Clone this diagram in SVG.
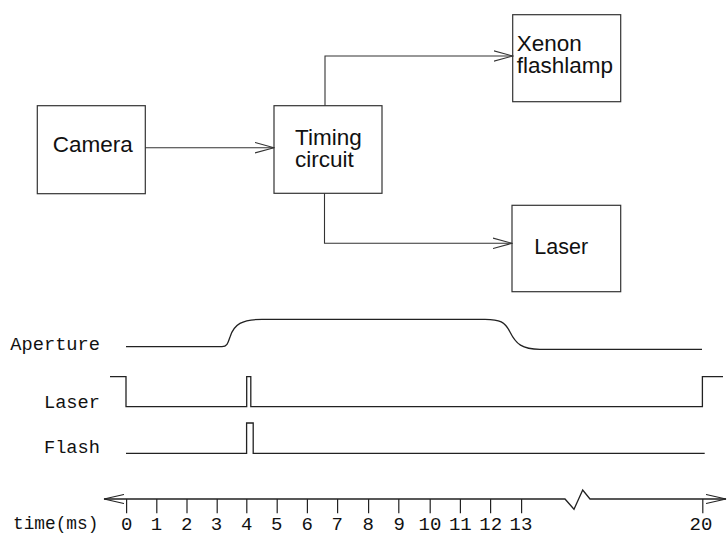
<svg xmlns="http://www.w3.org/2000/svg" width="727" height="538" viewBox="0 0 727 538">
<style>
.box{fill:#fff;stroke:#333;stroke-width:1.2}
.lbl{font-family:"Liberation Sans",Arial,sans-serif;font-size:22.5px;fill:#111}
.conn{fill:none;stroke:#333;stroke-width:1.1}
.sig{fill:none;stroke:#222;stroke-width:1.3}
.mono{font-family:"Liberation Mono","Courier New",monospace;font-size:18.7px;fill:#111}
.num{font-family:"Liberation Mono","Courier New",monospace;font-size:19px;fill:#111;text-anchor:middle}
.tick{stroke:#222;stroke-width:1.2}
</style>
<defs>
<marker id="arr" viewBox="0 0 20 12" refX="19" refY="6" markerWidth="20" markerHeight="12" markerUnits="userSpaceOnUse" orient="auto">
<path d="M0,0.8 L19,6 L0,11.2" fill="none" stroke="#333" stroke-width="1.1"/>
</marker>
<marker id="axarr" viewBox="0 0 21 10" refX="20" refY="5" markerWidth="21" markerHeight="10" markerUnits="userSpaceOnUse" orient="auto-start-reverse">
<path d="M0,0.5 L20,5 L0,9.5" fill="none" stroke="#222" stroke-width="1.1"/>
</marker>
</defs>
<rect width="727" height="538" fill="#fff"/>

<g id="camera">
<rect class="box" x="37.3" y="105.7" width="108" height="88"/>
<text class="lbl" x="52.7" y="152.3">Camera</text>
</g>
<g id="timing">
<rect class="box" x="274" y="105.7" width="108" height="87.6"/>
<text class="lbl" x="295" y="145">Timing</text>
<text class="lbl" x="295" y="167.3">circuit</text>
</g>
<g id="xenon">
<rect class="box" x="512.7" y="14.7" width="108" height="87"/>
<text class="lbl" x="516.7" y="50.7">Xenon</text>
<text class="lbl" x="516.7" y="73.3">flashlamp</text>
</g>
<g id="laser">
<rect class="box" x="512" y="205.3" width="108.7" height="86.4"/>
<text class="lbl" x="534.3" y="254" style="font-size:21.5px">Laser</text>
</g>

<g id="connectors">
<path class="conn" d="M145.3,147.7 L274,147.7" marker-end="url(#arr)"/>
<path class="conn" d="M325,105.7 L325,56 L512.7,56" marker-end="url(#arr)"/>
<path class="conn" d="M324.5,193.3 L324.5,243.3 L512,243.3" marker-end="url(#arr)"/>
</g>

<g id="timing-chart">
<text class="mono" x="100" y="350" text-anchor="end">Aperture</text>
<text class="mono" x="100" y="408" text-anchor="end">Laser</text>
<text class="mono" x="100" y="453" text-anchor="end">Flash</text>

<path class="sig" d="M126,346.7 L222,346.7 C227,346.7 228,343 230,337 C234,324 242,319.5 262,319.3 L485,319.3 C500,319.3 505,322 510,332 C516,344 522,349.3 540,349.3 L702,349.3"/>
<path class="sig" d="M110,376.7 L126,376.7 L126,406.7 L246.7,406.7 L246.7,376.7 L250.8,376.7 L250.8,406.7 L702.4,406.7 L702.4,376.7 L723,376.7"/>
<path class="sig" d="M126,453.3 L246.6,453.3 L246.6,423 L253.2,423 L253.2,453.3 L704.7,453.3"/>

<path class="sig" d="M104,499 L565,499 L574,509.3 L582.7,490 L590,499 L726,499" marker-start="url(#axarr)" marker-end="url(#axarr)"/>
<g class="tick">
<line x1="126.6" y1="499" x2="126.6" y2="513.3"/>
<line x1="156.8" y1="499" x2="156.8" y2="513.3"/>
<line x1="187" y1="499" x2="187" y2="513.3"/>
<line x1="217.2" y1="499" x2="217.2" y2="513.3"/>
<line x1="246.8" y1="499" x2="246.8" y2="513.3"/>
<line x1="277.2" y1="499" x2="277.2" y2="513.3"/>
<line x1="307.4" y1="499" x2="307.4" y2="513.3"/>
<line x1="337.6" y1="499" x2="337.6" y2="513.3"/>
<line x1="368.6" y1="499" x2="368.6" y2="513.3"/>
<line x1="398.8" y1="499" x2="398.8" y2="513.3"/>
<line x1="430.2" y1="499" x2="430.2" y2="513.3"/>
<line x1="460.4" y1="499" x2="460.4" y2="513.3"/>
<line x1="490.6" y1="499" x2="490.6" y2="513.3"/>
<line x1="521.6" y1="499" x2="521.6" y2="513.3"/>
<line x1="702.8" y1="499" x2="702.8" y2="513.3"/>
</g>
<text class="mono" x="13" y="529" style="font-size:17.8px">time(ms)</text>
<text class="num" x="126.7" y="530">0</text>
<text class="num" x="156.5" y="530">1</text>
<text class="num" x="186.7" y="530">2</text>
<text class="num" x="216.5" y="530">3</text>
<text class="num" x="246.7" y="530">4</text>
<text class="num" x="276.7" y="530">5</text>
<text class="num" x="307.3" y="530">6</text>
<text class="num" x="337.3" y="530">7</text>
<text class="num" x="368.3" y="530">8</text>
<text class="num" x="399.3" y="530">9</text>
<text class="num" x="430" y="530">10</text>
<text class="num" x="460.3" y="530">11</text>
<text class="num" x="490.7" y="530">12</text>
<text class="num" x="521" y="530">13</text>
<text class="num" x="701" y="530">20</text>
</g>
</svg>
